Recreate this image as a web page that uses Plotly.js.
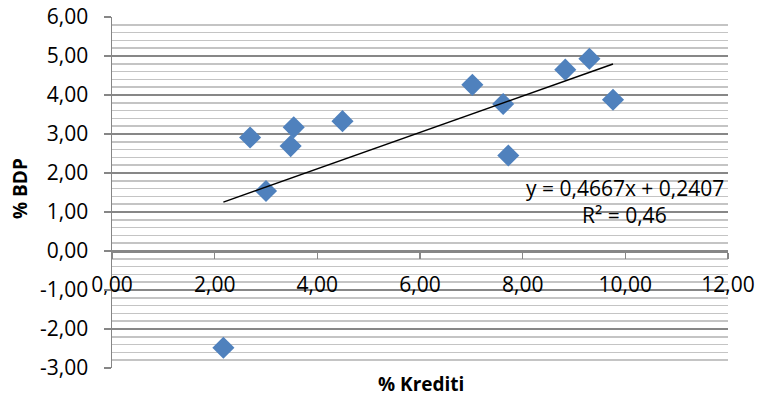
<!DOCTYPE html>
<html>
<head>
<meta charset="utf-8">
<script src="https://cdn.plot.ly/plotly-3.0.1.min.js"></script>
<style>html,body{margin:0;padding:0;background:#fff;}#chart{width:757px;height:398px;}</style>
</head>
<body>
<div id="chart"></div>
<script>
const kreditiX = [2.69, 3.00, 3.48, 3.54, 4.49, 7.02, 7.62, 7.72, 8.83, 9.30, 9.76, 2.17];
const bdpY = [2.91, 1.54, 2.69, 3.17, 3.33, 4.26, 3.77, 2.45, 4.65, 4.93, 3.88, -2.48];
const trendSlope = 0.4667;
const trendIntercept = 0.2407;
const rSquaredText = "R² = 0,46";
const equationText = "y = 0,4667x + 0,2407";
const xTickVals = [0, 2, 4, 6, 8, 10, 12];
const xTickLabels = ["0,00", "2,00", "4,00", "6,00", "8,00", "10,00", "12,00"];
const yTickVals = [-3, -2, -1, 0, 1, 2, 3, 4, 5, 6];
const yTickLabels = ["-3,00", "-2,00", "-1,00", "0,00", "1,00", "2,00", "3,00", "4,00", "5,00", "6,00"];

const xMin = Math.min(...kreditiX), xMax = Math.max(...kreditiX);
const trendX = [xMin, xMax];
const trendY = trendX.map(v => trendSlope * v + trendIntercept);

const FONT = "Open Sans, Liberation Sans, sans-serif";
const TICKSIZE = 21;

const data = [
  {x: kreditiX, y: bdpY, type: 'scatter', mode: 'markers',
   marker: {symbol: 'diamond', size: 17, color: '#4F81BD', line: {width: 0}},
   cliponaxis: false, hoverinfo: 'skip'},
  {x: trendX, y: trendY, type: 'scatter', mode: 'lines',
   line: {color: '#000000', width: 1.5}, hoverinfo: 'skip'}
];

const plotW = 757 - 112 - 29, plotH = 398 - 17 - 30;
function paperX(px){ return (px - 112) / plotW; }
function paperY(py){ return (398 - 30 - py) / plotH; }

const layout = {
  width: 757, height: 398,
  margin: {l: 112, r: 29, t: 17, b: 30},
  paper_bgcolor: '#ffffff', plot_bgcolor: '#ffffff',
  showlegend: false,
  font: {family: FONT, size: TICKSIZE, color: '#000000'},
  xaxis: {
    range: [0, 12], tickvals: xTickVals, ticktext: xTickLabels,
    anchor: 'free', position: 1/3,
    showgrid: false, zeroline: false,
    showline: true, linecolor: '#868686', linewidth: 1.5,
    ticks: 'outside', ticklen: 6, tickcolor: '#868686', tickwidth: 1.5,
    ticklabelstandoff: 8,
    tickfont: {family: FONT, size: TICKSIZE, color: '#000'},
    automargin: false
  },
  yaxis: {
    range: [-3, 6], tickvals: yTickVals, ticktext: yTickLabels,
    showgrid: true, gridcolor: '#878787', gridwidth: 1.5,
    zeroline: false,
    showline: true, linecolor: '#868686', linewidth: 1.5,
    ticks: 'outside', ticklen: 7, tickcolor: '#868686', tickwidth: 1.5,
    ticklabelstandoff: 11,
    minor: {dtick: 0.2, showgrid: true, gridcolor: '#c4c4c4', gridwidth: 1.5, ticks: ''},
    tickfont: {family: FONT, size: TICKSIZE, color: '#000'},
    automargin: false
  },
  annotations: [
    {text: equationText, xref: 'paper', yref: 'paper', x: paperX(625), y: paperY(188),
     showarrow: false, font: {family: FONT, size: TICKSIZE, color: '#000'}, xanchor: 'center', yanchor: 'middle'},
    {text: rSquaredText, xref: 'paper', yref: 'paper', x: paperX(624), y: paperY(215),
     showarrow: false, font: {family: FONT, size: TICKSIZE, color: '#000'}, xanchor: 'center', yanchor: 'middle'},
    {text: '<b>% BDP</b>', xref: 'paper', yref: 'paper', x: paperX(20), y: paperY(189),
     showarrow: false, font: {family: FONT, size: 19, color: '#000'}, textangle: -90, xanchor: 'center', yanchor: 'middle'},
    {text: '<b>% Krediti</b>', xref: 'paper', yref: 'paper', x: paperX(421), y: paperY(384),
     showarrow: false, font: {family: FONT, size: 19, color: '#000'}, xanchor: 'center', yanchor: 'middle', borderpad: 0}
  ]
};

Plotly.newPlot('chart', data, layout, {staticPlot: true});
</script>
</body>
</html>
